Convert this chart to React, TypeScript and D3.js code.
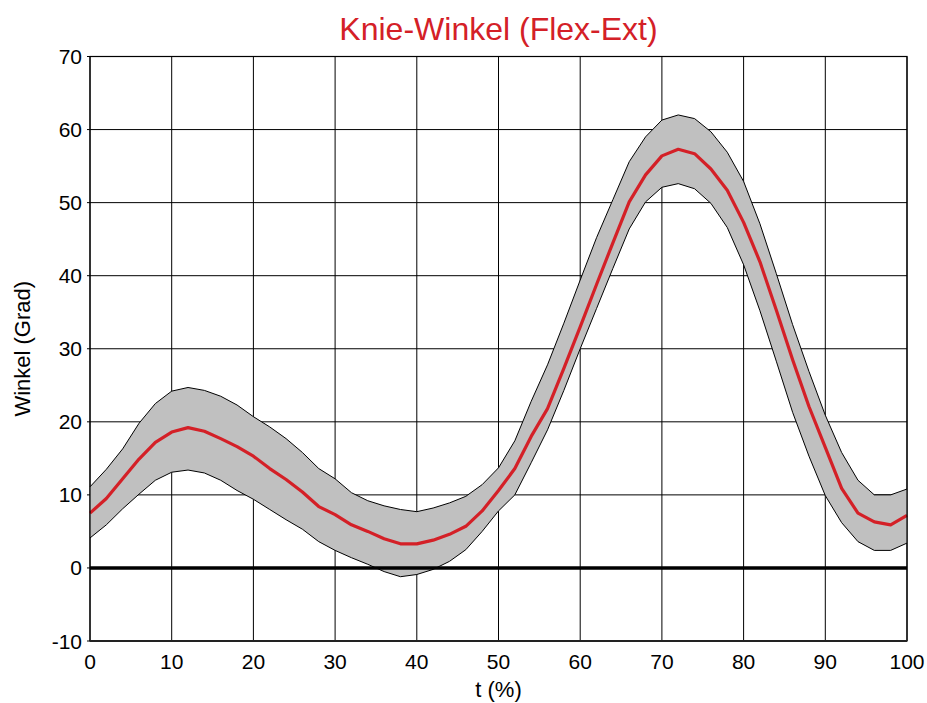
import React, { useEffect } from "react";
import * as d3 from "d3";

// Gait cycle sample points (% of cycle)
const tPercent = [
  0, 2, 4, 6, 8, 10, 12, 14, 16, 18, 20, 22, 24, 26, 28, 30, 32, 34, 36, 38, 40,
  42, 44, 46, 48, 50, 52, 54, 56, 58, 60, 62, 64, 66, 68, 70, 72, 74, 76, 78, 80,
  82, 84, 86, 88, 90, 92, 94, 96, 98, 100,
];

// Mean knee angle (degrees)
const meanAngle = [
  7.5, 9.5, 12.2, 14.9, 17.2, 18.6, 19.2, 18.7, 17.7, 16.6, 15.3, 13.6, 12.1, 10.4,
  8.4, 7.3, 5.9, 5.0, 4.0, 3.3, 3.3, 3.8, 4.6, 5.7, 7.8, 10.6, 13.6, 18.0, 21.8,
  27.3, 33.0, 38.8, 44.5, 50.1, 53.8, 56.4, 57.3, 56.7, 54.6, 51.7, 47.3, 41.9,
  35.3, 28.5, 22.1, 16.5, 10.9, 7.5, 6.3, 5.9, 7.2,
];

// Upper boundary of the normal band
const upperAngle = [
  11.1, 13.5, 16.3, 19.8, 22.5, 24.2, 24.7, 24.3, 23.5, 22.3, 20.7, 19.3, 17.7, 15.8,
  13.6, 12.2, 10.3, 9.2, 8.5, 8.0, 7.7, 8.2, 8.9, 9.8, 11.4, 13.7, 17.4, 22.8, 27.8,
  33.5, 39.4, 45.2, 50.4, 55.6, 59.0, 61.3, 62.0, 61.5, 59.7, 56.9, 52.9, 47.1,
  40.3, 33.3, 26.9, 20.9, 15.8, 12.0, 10.0, 10.0, 10.8,
];

// Lower boundary of the normal band
const lowerAngle = [
  4.1, 5.9, 8.1, 10.1, 12.0, 13.1, 13.4, 13.0, 12.0, 10.6, 9.4, 8.0, 6.6, 5.3, 3.6,
  2.4, 1.4, 0.5, -0.5, -1.2, -0.9, -0.2, 0.9, 2.5, 5.0, 7.8, 10.0, 14.4, 18.9, 24.3,
  30.0, 35.5, 41.0, 46.4, 50.1, 52.1, 52.6, 51.9, 49.9, 46.6, 41.5, 35.2, 28.3,
  21.3, 15.3, 9.9, 6.2, 3.6, 2.4, 2.4, 3.4,
];

const xTicks = [0, 10, 20, 30, 40, 50, 60, 70, 80, 90, 100];
const yTicks = [-10, 0, 10, 20, 30, 40, 50, 60, 70];

const titleText = "Knie-Winkel (Flex-Ext)";
const xLabel = "t (%)";
const yLabel = "Winkel (Grad)";

const WIDTH = 927;
const HEIGHT = 703;
const M = { left: 90, right: 20, top: 56.5, bottom: 62 };
const FONT = "'Liberation Sans', Arial, Helvetica, sans-serif";
const RED = "#d42027";

export default function App() {
  useEffect(() => {
    document.body.style.margin = "0";
  }, []);

  const x = d3.scaleLinear().domain([0, 100]).range([M.left, WIDTH - M.right]);
  const y = d3.scaleLinear().domain([-10, 70]).range([HEIGHT - M.bottom, M.top]);

  const rows = tPercent.map((t, i) => ({
    t,
    mean: meanAngle[i],
    hi: upperAngle[i],
    lo: lowerAngle[i],
  }));

  const band = d3
    .area<(typeof rows)[number]>()
    .x((d) => x(d.t))
    .y0((d) => y(d.lo))
    .y1((d) => y(d.hi));
  const hiLine = d3.line<(typeof rows)[number]>().x((d) => x(d.t)).y((d) => y(d.hi));
  const loLine = d3.line<(typeof rows)[number]>().x((d) => x(d.t)).y((d) => y(d.lo));
  const meanLine = d3.line<(typeof rows)[number]>().x((d) => x(d.t)).y((d) => y(d.mean));

  const [x0, x1] = x.range();
  const [yb, yt] = y.range();

  return (
    <svg width={WIDTH} height={HEIGHT} style={{ display: "block", background: "#fff" }} fontFamily={FONT}>
      <text x={(x0 + x1) / 2} y={39.5} textAnchor="middle" fontSize={32} fill={RED}>
        {titleText}
      </text>

      {/* grid */}
      {xTicks.map((t) => (
        <line key={"gx" + t} x1={x(t)} x2={x(t)} y1={yt} y2={yb} stroke="#000" strokeWidth={1} />
      ))}
      {yTicks.map((v) => (
        <line key={"gy" + v} x1={x0} x2={x1} y1={y(v)} y2={y(v)} stroke="#000" strokeWidth={1} />
      ))}

      {/* normal band */}
      <path d={band(rows) ?? ""} fill="#c0c0c0" stroke="none" />
      <path d={hiLine(rows) ?? ""} fill="none" stroke="#000" strokeWidth={1} />
      <path d={loLine(rows) ?? ""} fill="none" stroke="#000" strokeWidth={1} />

      {/* zero line */}
      <line x1={x0} x2={x1} y1={y(0)} y2={y(0)} stroke="#000" strokeWidth={3.5} />

      {/* mean curve */}
      <path d={meanLine(rows) ?? ""} fill="none" stroke={RED} strokeWidth={3.2} strokeLinejoin="round" />

      {/* frame */}
      <rect x={x0} y={yt} width={x1 - x0} height={yb - yt} fill="none" stroke="#000" strokeWidth={1.2} />
      <line x1={x0} x2={x1} y1={yb} y2={yb} stroke="#222" strokeWidth={2} />

      {/* tick marks */}
      {yTicks.map((v) => (
        <line key={"ty" + v} x1={x0 - 3} x2={x0} y1={y(v)} y2={y(v)} stroke="#000" />
      ))}

      {/* tick labels */}
      {yTicks.map((v) => (
        <text key={"ly" + v} x={x0 - 8} y={y(v)} dy="0.36em" textAnchor="end" fontSize={21} fill="#000">
          {v}
        </text>
      ))}
      {xTicks.map((t) => (
        <text key={"lx" + t} x={x(t)} y={669} textAnchor="middle" fontSize={21} fill="#000">
          {t}
        </text>
      ))}

      <text x={(x0 + x1) / 2} y={697} textAnchor="middle" fontSize={22} fill="#000">
        {xLabel}
      </text>
      <text
        transform={`translate(30, ${(yt + yb) / 2}) rotate(-90)`}
        textAnchor="middle"
        fontSize={22}
        fill="#000"
      >
        {yLabel}
      </text>
    </svg>
  );
}
